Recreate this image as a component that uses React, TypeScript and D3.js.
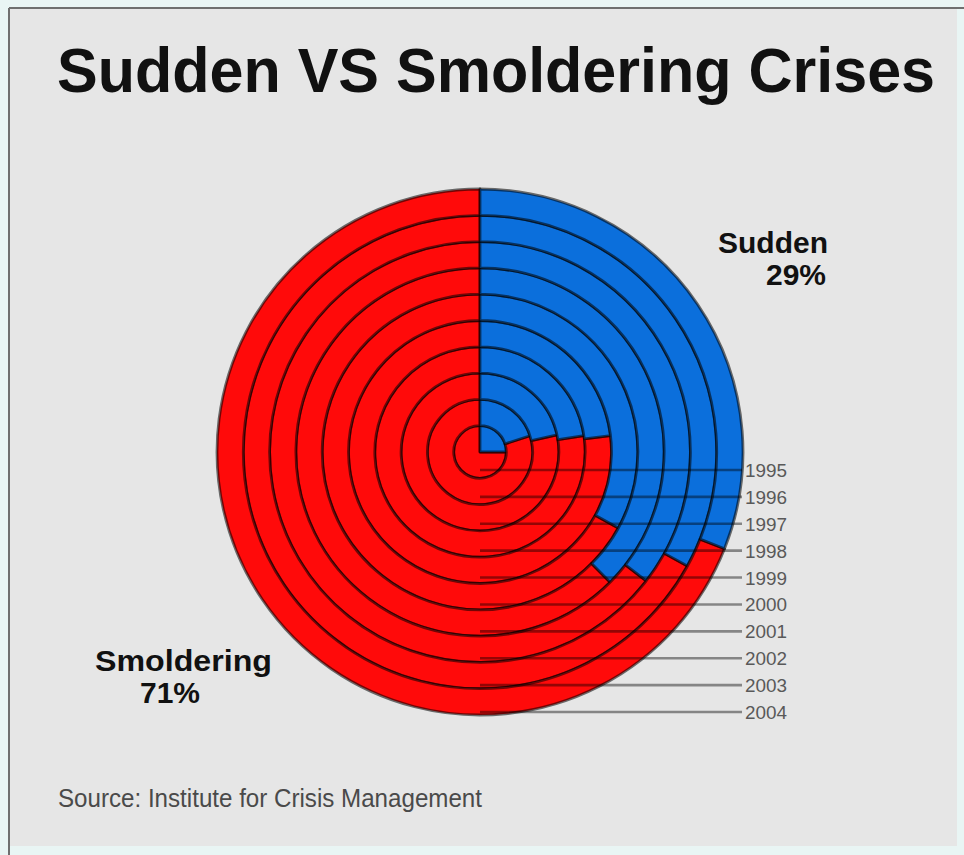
import React from "react";
import * as d3 from "d3";

const years = ["1995", "1996", "1997", "1998", "1999", "2000", "2001", "2002", "2003", "2004"];
const suddenPct = [25, 20, 21.5, 22.5, 23, 33, 37.5, 35.5, 33, 31];
const title = "Sudden VS Smoldering Crises";
const sliceLabels = [
  { name: "Sudden", value: "29%" },
  { name: "Smoldering", value: "71%" },
];
const source = "Source: Institute for Crisis Management";

const W = 964;
const H = 855;
const cx = 480;
const cy = 452;
const R = 263;

export default function App() {
  const ring = d3.scaleBand<string>().domain(years).range([0, R]).paddingInner(0).paddingOuter(0);
  const angle = d3.scaleLinear().domain([0, 100]).range([0, 2 * Math.PI]);
  const labelY = d3.scalePoint<string>().domain(years).range([470, 712]);
  const arc = d3.arc<any>();

  const rings = years.map((y, i) => {
    const inner = ring(y)!;
    const outer = inner + ring.bandwidth();
    const a = angle(suddenPct[i]);
    return {
      year: y,
      blue: arc({ innerRadius: inner, outerRadius: outer, startAngle: 0, endAngle: a }) as string,
      red: arc({ innerRadius: inner, outerRadius: outer, startAngle: a, endAngle: 2 * Math.PI }) as string,
    };
  });

  return (
    <svg
      width={W}
      height={H}
      style={{ position: "absolute", left: 0, top: 0, display: "block" }}
      fontFamily="'Liberation Sans', Arial, sans-serif"
    >
      <rect x={0} y={0} width={W} height={H} fill="#e9f5f4" />
      <rect x={9} y={8} width={948} height={838} fill="#e6e6e6" />
      <line x1={9} y1={8} x2={W} y2={8} stroke="#6f6f6f" strokeWidth={2} />
      <line x1={9} y1={8} x2={9} y2={H} stroke="#6f6f6f" strokeWidth={2} />

      <text x={57} y={92} fontSize={63} fontWeight="bold" fill="#111" textLength={878} lengthAdjust="spacingAndGlyphs">
        {title}
      </text>

      <g transform={`translate(${cx},${cy})`}>
        {rings.map((r) => (
          <g key={r.year}>
            <path d={r.red} fill="#ff0a0a" stroke="#000" strokeOpacity={0.55} strokeWidth={2.8} strokeLinejoin="round" />
            <path d={r.blue} fill="#0b6fdc" stroke="#000" strokeOpacity={0.55} strokeWidth={2.8} strokeLinejoin="round" />
          </g>
        ))}
      </g>

      {years.map((y) => (
        <g key={y}>
          <line x1={cx} x2={742} y1={labelY(y)} y2={labelY(y)} stroke="#000" strokeOpacity={0.42} strokeWidth={2.6} />
          <text x={745} y={labelY(y)! + 7} fontSize={18} fill="#595959" textLength={42} lengthAdjust="spacingAndGlyphs">
            {y}
          </text>
        </g>
      ))}

      <text x={828} y={253} fontSize={30} fontWeight="bold" fill="#111" textAnchor="end">
        {sliceLabels[0].name}
      </text>
      <text x={826} y={285} fontSize={30} fontWeight="bold" fill="#111" textAnchor="end">
        {sliceLabels[0].value}
      </text>
      <text x={95} y={671} fontSize={30} fontWeight="bold" fill="#111" textLength={177} lengthAdjust="spacingAndGlyphs">
        {sliceLabels[1].name}
      </text>
      <text x={140} y={703} fontSize={30} fontWeight="bold" fill="#111">
        {sliceLabels[1].value}
      </text>

      <text x={58} y={807} fontSize={26} fill="#4a4a4a" textLength={424} lengthAdjust="spacingAndGlyphs">
        {source}
      </text>
    </svg>
  );
}
